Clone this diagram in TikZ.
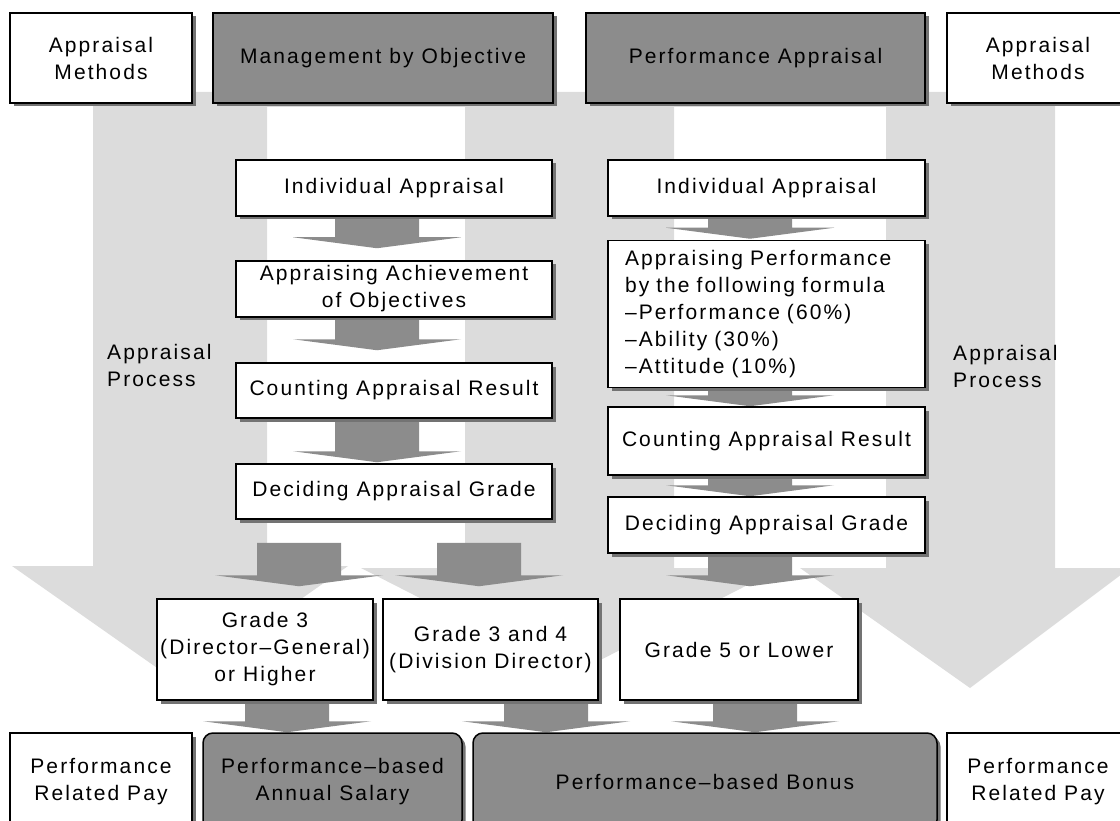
\documentclass[tikz,border=0pt]{standalone}
\usepackage{fontspec}
\setmainfont{Liberation Sans}[LetterSpace=10]
\usepackage{tikz}
\usetikzlibrary{calc, shadows}
\pgfdeclarelayer{back}
\pgfdeclarelayer{bg}
\pgfsetlayers{back,bg,main}
\definecolor{lightgr}{RGB}{220,220,220}
\definecolor{darkgr}{RGB}{140,140,140}
\definecolor{shadowgr}{RGB}{115,115,115}
% block arrow: x centre, from node, to node, gap below the first, gap above the second
\newcommand{\flowarrow}[5]{%
\fill [darkgr] let \p1=(#1,0 |- #2.south), \p2=(#1,0 |- #3.north) in
	(\x1-42pt,\y1-#4pt) -- (\x1+42pt,\y1-#4pt) -- (\x1+42pt,\y2+#5pt+11pt) -- (\x1+84pt,\y2+#5pt+11pt)
	-- (\x1,\y2+#5pt) -- (\x1-84pt,\y2+#5pt+11pt) -- (\x1-42pt,\y2+#5pt+11pt) -- cycle;}

\begin{document}
\begin{tikzpicture}[x=1pt, y=-1pt, font=\fontsize{21}{27}\selectfont,
	box/.style={draw, line width=1.5pt, fill=white, inner sep=0pt, align=center,
		drop shadow={shadow xshift=3.5pt, shadow yshift=-3.5pt, fill=shadowgr, opacity=1}},
	darkbox/.style={box, fill=darkgr},
	paybox/.style={darkbox, rounded corners=10pt},
	bgarrow/.style={fill=lightgr},
	procnote/.style={anchor=west, align=left, inner sep=0pt}]
\useasboundingbox (0,0) rectangle (1120,821);
\clip (0,0) rectangle (1120,821);

	% Background arrows
\begin{pgfonlayer}{back}
\clip (0,0) rectangle (1120,821);
\fill [bgarrow] (93,92) rectangle (1055,107);
\fill [bgarrow] (93,92) -- (267,92) -- (267,566) -- (348,566) -- (180,684) -- (12,566) -- (93,566) -- cycle;
\fill [bgarrow] (465,92) -- (674,92) -- (674,568) -- (781,568) -- (571,675) -- (361,568) -- (465,568) -- cycle;
\fill [bgarrow] (886,92) -- (1055,92) -- (1055,568) -- (1130,568) -- (970,688) -- (800,568) -- (886,568) -- cycle;
\end{pgfonlayer}

	% Methods
\node [box, minimum width=182pt, minimum height=90pt] (am1) at (101,58) {Appraisal\\Methods};
\node [darkbox, minimum width=340pt, minimum height=90pt] (mbo) at (383,58) {Management by Objective};
\node [darkbox, minimum width=339pt, minimum height=90pt] (pa) at (755.5,58) {Performance Appraisal};
\node [box, minimum width=182pt, minimum height=90pt] (am2) at (1038,58) {Appraisal\\Methods};

	% Process
\node [procnote] (pr1) at (107,365) {Appraisal\\Process};
\node [procnote] (pr2) at (953,366) {Appraisal\\Process};

\node [box, minimum width=316pt, minimum height=56pt] (ia1) at (394,188) {Individual Appraisal};
\node [box, minimum width=316pt, minimum height=56pt] (aa1) at (394,289) {Appraising Achievement\\of Objectives};
\node [box, minimum width=316pt, minimum height=55pt] (ca1) at (394,390.5) {Counting Appraisal Result};
\node [box, minimum width=316pt, minimum height=55pt] (de1) at (394,491.5) {Deciding Appraisal Grade};

\node [box, minimum width=317pt, minimum height=56pt] (ia2) at (766.5,188) {Individual Appraisal};
\node [box, minimum width=317pt, minimum height=147pt, text width=283pt, align=left] (ap2) at (766.5,314)
	{Appraising Performance\\by the following formula\\--Performance (60\%)\\--Ability (30\%)\\--Attitude (10\%)};
\node [box, minimum width=317pt, minimum height=68pt] (ca2) at (766.5,441) {Counting Appraisal Result};
\node [box, minimum width=317pt, minimum height=56pt] (de2) at (766.5,525) {Deciding Appraisal Grade};

	% Grades
\node [box, minimum width=216pt, minimum height=101pt] (g3) at (265,649.5) {Grade 3\\(Director--General)\\or Higher};
\node [box, minimum width=215pt, minimum height=101pt] (g34) at (490.5,649.5) {Grade 3 and 4\\(Division Director)};
\node [box, minimum width=238pt, minimum height=101pt] (g5) at (739,649.5) {Grade 5 or Lower};

	% Pay
\node [box, minimum width=182pt, minimum height=97pt] (rp1) at (101,781.5) {Performance\\Related Pay};
\node [paybox, minimum width=259pt, minimum height=97pt] (sal) at (332.5,781.5) {Performance--based\\Annual Salary};
\node [paybox, minimum width=464pt, minimum height=97pt] (bon) at (705,781.5) {Performance--based Bonus};
\node [box, minimum width=182pt, minimum height=97pt] (rp2) at (1038,781.5) {Performance\\Related Pay};

\begin{pgfonlayer}{bg}
\flowarrow{377}{ia1}{aa1}{0}{12}
\flowarrow{377}{aa1}{ca1}{0}{12}
\flowarrow{377}{ca1}{de1}{0}{1}
\flowarrow{299}{de1}{g3}{23}{12}
\flowarrow{479}{de1}{g34}{23}{12}
\flowarrow{750}{ia2}{ap2}{0}{1}
\flowarrow{750}{ap2}{ca2}{0}{0}
\flowarrow{750}{ca2}{de2}{0}{0}
\flowarrow{750}{de2}{g5}{0}{12}
\flowarrow{287}{g3}{sal}{3}{0}
\flowarrow{546}{g34}{bon}{0}{0}
\flowarrow{755}{g5}{bon}{0}{0}
\end{pgfonlayer}
\end{tikzpicture}
\end{document}
